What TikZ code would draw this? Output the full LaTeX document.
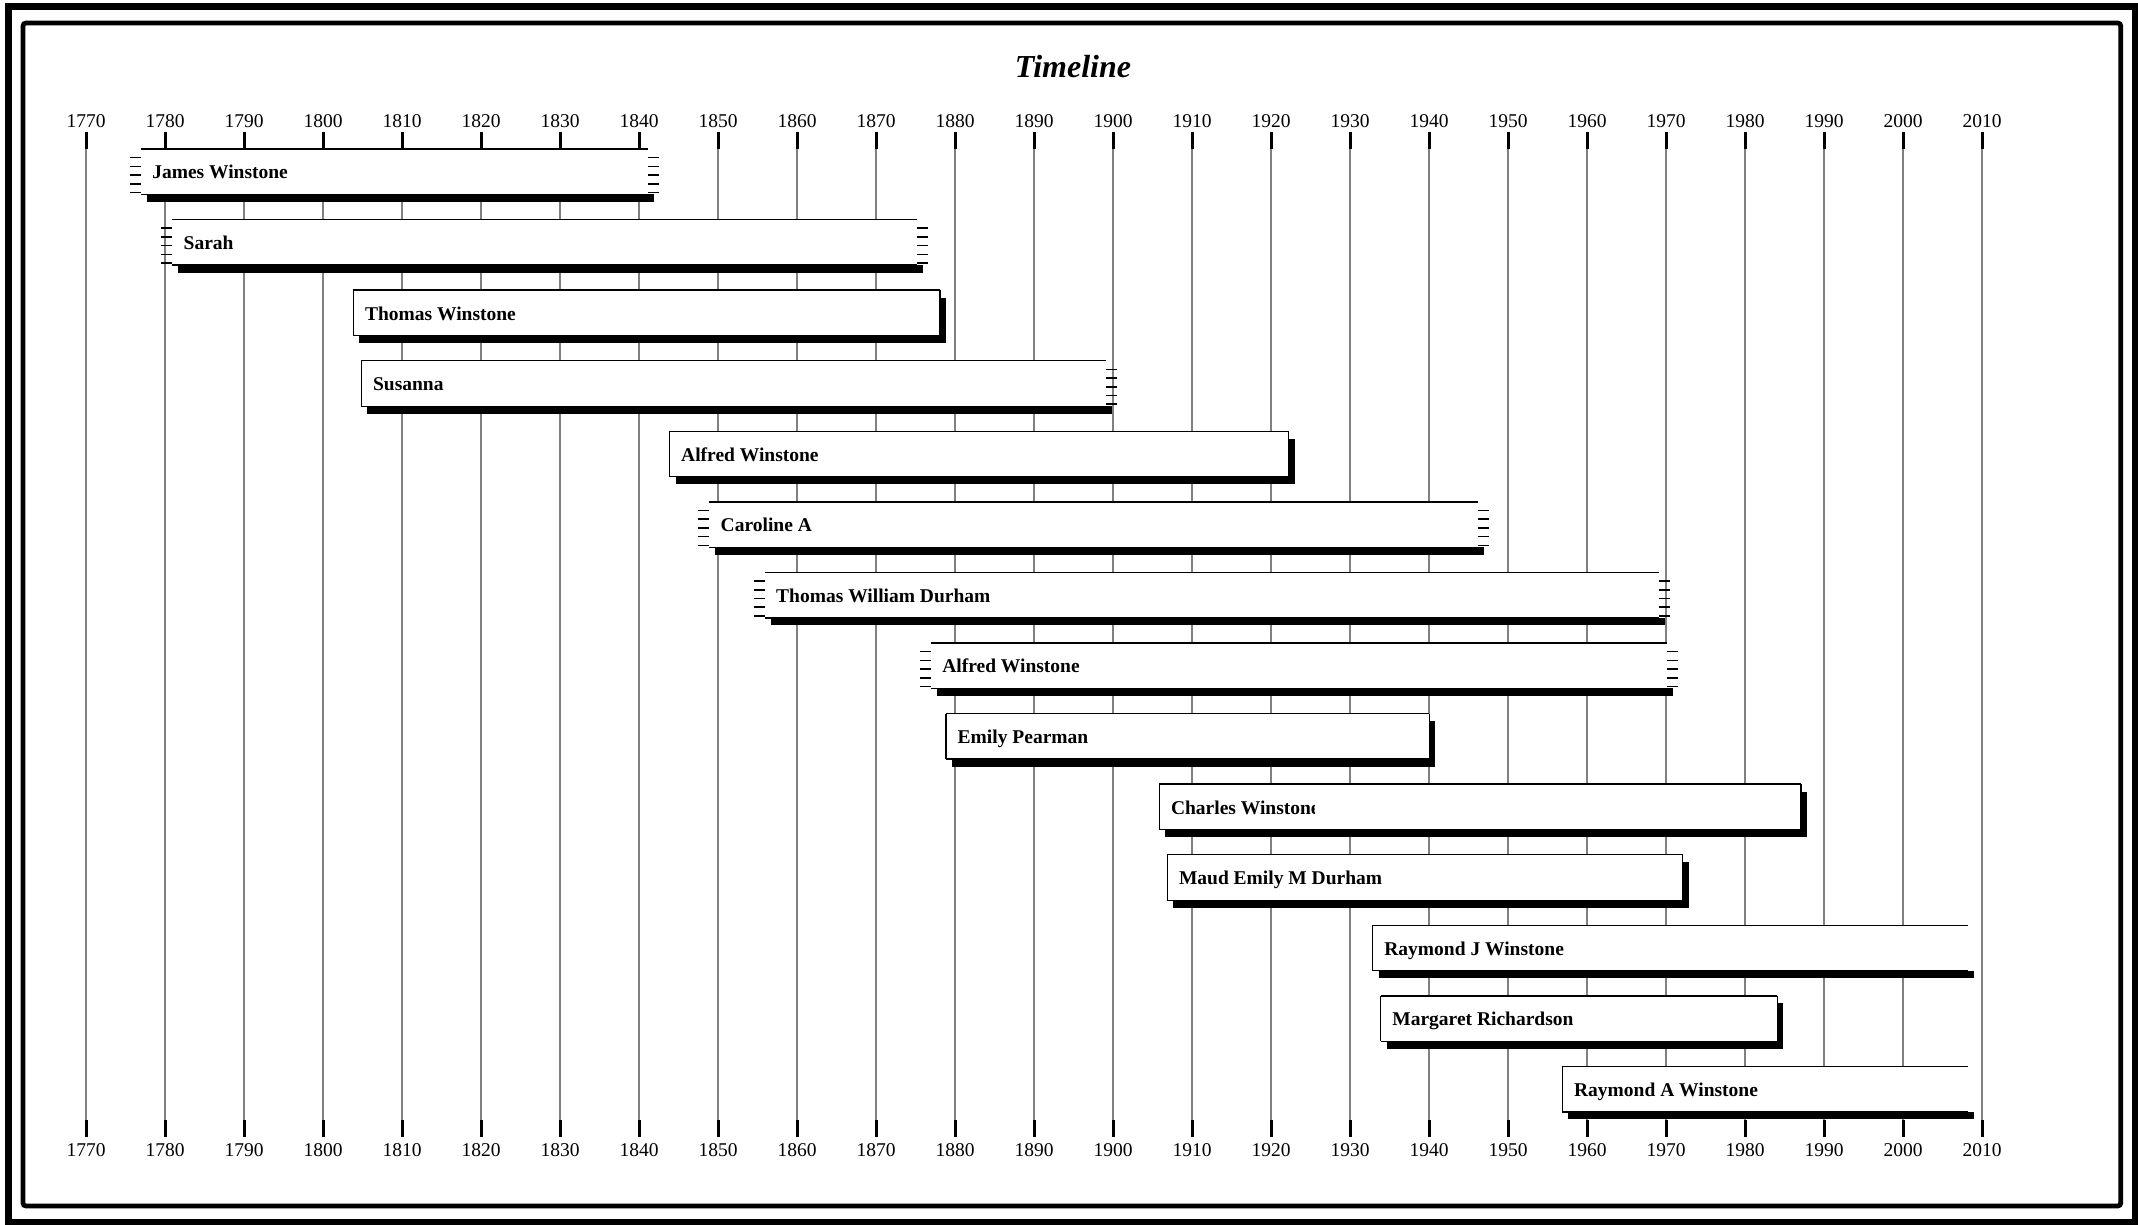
\documentclass[tikz,border=0pt]{standalone}
\usepackage{fontspec}
\setmainfont{Liberation Serif}
\usetikzlibrary{calc}

\definecolor{gridgray}{RGB}{128,128,128}

% one life bar: row, left x, right x, node name, label, right edge of label clip
\newcommand{\lifebar}[6]{%
  \pgfmathsetmacro{\bartop}{149+70.57*#1}%
  \pgfmathsetmacro{\barbot}{\bartop+45.5}%
  \fill[black] ({#2+6},\barbot) rectangle ({#3+6},{\barbot+7.5});
  \fill[white] (#2,\bartop) rectangle (#3,\barbot);
  \draw[boxline] (#2,\bartop) -- (#3,\bartop) (#2,\barbot) -- (#3,\barbot);
  \begin{scope}
    \clip (#2,\bartop) rectangle (#6,\barbot);
    \node[barlabel] (#4) at ({#2+11.5},{\bartop+30}) {#5};
  \end{scope}
}
% known date: plain end
\newcommand{\solidend}[2]{%
  \draw[boxline] (#1,{149+70.57*#2}) -- (#1,{194.5+70.57*#2});
}
% known date on the right: plain end with its shadow strip
\newcommand{\solidright}[2]{%
  \fill[black] (#1,{156.5+70.57*#2}) rectangle ({#1+6},{194.5+70.57*#2});
  \draw[boxline] (#1,{149+70.57*#2}) -- (#1,{194.5+70.57*#2});
}
% uncertain date: stack of dashes, #3 = +11 outward right, -11 outward left
\newcommand{\fuzzyend}[3]{%
  \foreach \d in {1,...,5}
    \draw[fuzzline] (#1,{149+70.57*#2+8.7*\d}) -- ({#1+(#3)},{149+70.57*#2+8.7*\d});
}

\begin{document}
\begin{tikzpicture}[x=1pt, y=-1pt,
  gridline/.style={draw=gridgray, line width=2.3},
  tickline/.style={draw=black, line width=3},
  yearlabel/.style={font=\fontsize{19.5}{22}\selectfont, anchor=base, inner sep=0},
  barlabel/.style={font=\bfseries\fontsize{19.5}{22}\selectfont, anchor=base west, inner sep=0},
  boxline/.style={draw=black, line width=1.3},
  fuzzline/.style={draw=black, line width=1.6},
]
\useasboundingbox (0,0) rectangle (2138,1225);

% double frame
\draw[line width=7] (8,6.7) rectangle (2135,1222);
\draw[line width=4.8, rounded corners=3] (23,23) rectangle (2120.7,1206);

% title
\node[font=\bfseries\itshape\fontsize{32}{36}\selectfont, anchor=base, inner sep=0] (title) at (1073,77.3) {Timeline};

% year grid
\foreach \yr [count=\k from 0] in {1770,1780,...,2010} {
  \pgfmathsetmacro{\gx}{86.2+79*\k}
  \draw[gridline] (\gx,132) -- (\gx,1137);
  \draw[tickline] (\gx,132) -- (\gx,149);
  \draw[tickline] (\gx,1120) -- (\gx,1137);
  \node[yearlabel] (top\yr) at (\gx,127.3) {\yr};
  \node[yearlabel] (bot\yr) at (\gx,1156) {\yr};
}

% life bars
\lifebar{0}{140.6}{648}{james}{James Winstone}{648}
\fuzzyend{140.6}{0}{-11} \fuzzyend{648}{0}{11}

\lifebar{1}{172}{916.5}{sarah}{Sarah}{916.5}
\fuzzyend{172}{1}{-11} \fuzzyend{916.5}{1}{11}

\lifebar{2}{353.4}{940}{thomas}{Thomas Winstone}{940}
\solidend{353.4}{2} \solidright{940}{2}

\lifebar{3}{361.4}{1106}{susanna}{Susanna}{1106}
\solidend{361.4}{3} \fuzzyend{1106}{3}{11}

\lifebar{4}{669.5}{1288.5}{alfred}{Alfred Winstone}{1288.5}
\solidend{669.5}{4} \solidright{1288.5}{4}

\lifebar{5}{709}{1477.7}{caroline}{Caroline A}{1477.7}
\fuzzyend{709}{5}{-11} \fuzzyend{1477.7}{5}{11}

\lifebar{6}{764.5}{1659.3}{twdurham}{Thomas William Durham}{1659.3}
\fuzzyend{764.5}{6}{-11} \fuzzyend{1659.3}{6}{11}

\lifebar{7}{930.6}{1667.3}{alfredjr}{Alfred Winstone}{1667.3}
\fuzzyend{930.6}{7}{-11} \fuzzyend{1667.3}{7}{11}

\lifebar{8}{946}{1429.4}{emily}{Emily Pearman}{1429.4}
\solidend{946}{8} \solidright{1429.4}{8}

\lifebar{9}{1159.3}{1801}{charles}{Charles Winstone}{1314}
\solidend{1159.3}{9} \solidright{1801}{9}

\lifebar{10}{1167.3}{1682.6}{maud}{Maud Emily M Durham}{1682.6}
\solidend{1167.3}{10} \solidright{1682.6}{10}

\lifebar{11}{1372.7}{1968}{raymondj}{Raymond J Winstone}{1968}
\solidend{1372.7}{11}

\lifebar{12}{1380.7}{1777.3}{margaret}{Margaret Richardson}{1777.3}
\solidend{1380.7}{12} \solidright{1777.3}{12}

\lifebar{13}{1562.4}{1968}{raymonda}{Raymond A Winstone}{1968}
\solidend{1562.4}{13}
\end{tikzpicture}
\end{document}
